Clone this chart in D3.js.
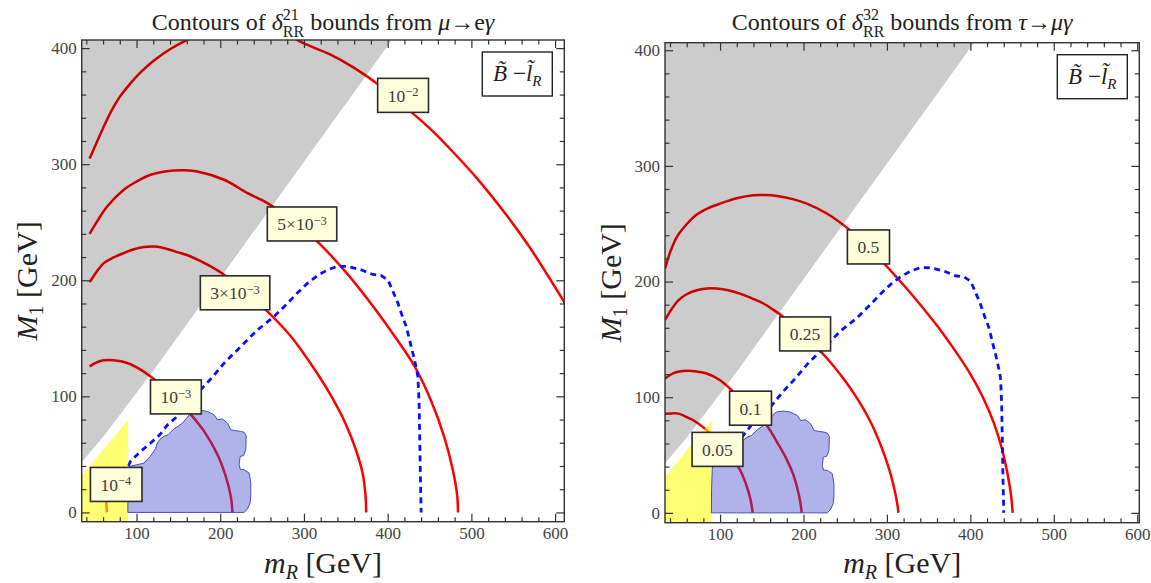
<!DOCTYPE html>
<html>
<head>
<meta charset="utf-8">
<script src="https://cdn.jsdelivr.net/npm/d3@7"></script>
<style>
  body { margin: 0; background: #fff; }
  svg { display: block; }
  text { font-family: "Liberation Serif", "Times New Roman", serif; }
</style>
</head>
<body>
<svg id="chart" width="1151" height="583"></svg>
<script>
// ---------- axis ticks ----------
const xTickValues = [100, 200, 300, 400, 500, 600];
const yTickValues = [0, 100, 200, 300, 400];

// ---------- shaded regions (m_R, M_1 in GeV) ----------
// edge of the slepton-LSP region (grey, above the edge)
const sleptonLspEdge = [[30, 39.5], [60, 65], [122, 124], [293, 295], [406, 408]];
// edge of the LEP-excluded corner (yellow, below the edge, left of m_R = 90)
const lepEdge = [[30, 27.5], [90, 80]];
const lepMaxMR = 90;
// relic-density allowed region (lavender)
const relicRegion = [
  [89.6, 0], [89.8, 20], [90.8, 39.6], [100, 41], [108.8, 42.5], [116, 48], [122.8, 55],
  [124.8, 59.8], [128, 63], [132.7, 65.5], [138, 67], [144.7, 72], [150, 74.5], [155, 77],
  [160.7, 82], [165, 86], [168.6, 87.5], [176.6, 88], [184.7, 87], [192.6, 84.2],
  [196.6, 79.8], [202.6, 80.5], [208.6, 77], [212.6, 71.2], [218, 70.5], [224.6, 69.8],
  [228.5, 69], [231, 66], [230.5, 54], [228, 49], [223.8, 48.2], [222.5, 41], [224, 37],
  [228.5, 36.8], [234.5, 33.9], [236.5, 25.3], [236.5, 15], [235.7, 8.1], [232.5, 3], [228.5, 0]
];
// collider exclusion contour (blue dashed)
const colliderBound = [
  [90, 40], [92.8, 44], [104, 52], [116.8, 59.8], [128, 67], [137, 75.5], [148.7, 82.7],
  [162, 93], [176.6, 105.7], [190, 116], [204.6, 128.6], [224.6, 143], [244.6, 157.3],
  [264.4, 168.8], [280.5, 180.3], [292, 189], [304.4, 197.5], [316, 204], [328.4, 209],
  [340, 212], [352.3, 211.9], [368.3, 209], [382, 205], [392.2, 204.1], [400.2, 200.4],
  [406, 191], [412.2, 180.4], [417, 170], [422.2, 160.2], [427, 146], [432.1, 131.5],
  [436.1, 117.1], [437.5, 95], [438.1, 71.2], [439, 35], [440, 0]
];

// ---------- delta_RR^21 contours from mu -> e gamma ----------
const muEg_1e2 = [[44, 305], [52, 318], [60, 331], [70, 346], [80, 358], [92, 369], [106, 380],
  [122, 390], [140, 399], [160, 407], [190, 416], [230, 420], [270, 415], [300, 404], [330, 395],
  [360, 383], [390, 368], [420, 350], [450, 331], [480, 309], [510, 285], [540, 258], [570, 228],
  [600, 194], [612, 180], [625, 164]];
const muEg_5e3 = [[44, 240], [54, 252], [64.9, 263.6], [84.8, 278], [100, 285], [116.8, 290.9],
  [144.7, 294.6], [158, 294.8], [172.7, 293.7], [204.6, 286.6], [232.6, 275.1], [250, 269],
  [264, 263], [280, 255], [300, 244], [318, 232], [350, 207], [380, 180], [410, 150], [432, 126],
  [452, 96], [468, 64], [478, 36], [483, 15], [484, 0]];
const muEg_3e3 = [[44, 198.4], [52, 207], [60.9, 214.8], [72, 219.5], [84.8, 223.4], [96, 226.5],
  [108.7, 228.6], [122, 229], [136.8, 227], [150, 224], [164.7, 220.5], [188.6, 211.9],
  [204.6, 204.7], [230, 190], [256.5, 173], [284, 152], [312, 124], [332, 101], [350, 76],
  [362, 54], [370, 34], [373.5, 15], [374.3, 0]];
const muEg_1e3 = [[44, 125.8], [50, 128.5], [58.9, 130.9], [72.8, 131], [88.9, 128.7],
  [104.8, 123], [118.8, 116], [142, 102], [164.7, 84.5], [180.6, 70], [196.6, 50], [206.6, 31],
  [212.6, 14], [214.6, 0]];
const muEg_1e4 = [[48, 38], [56, 30], [61, 21], [63.5, 11], [64.5, 0]];
const muEgLabels = [
  { base: "10", exp: "\u22122", at: [418.4, 359.3] },
  { base: "5\u00d710", exp: "\u22123", at: [297.7, 248.5] },
  { base: "3\u00d710", exp: "\u22123", at: [217.7, 189.2] },
  { base: "10", exp: "\u22123", at: [147, 99.5] },
  { base: "10", exp: "\u22124", at: [75.3, 24.1] }
];

// ---------- delta_RR^32 contours from tau -> mu gamma ----------
const tauMg_05 = [[34, 211.2], [40, 225], [48.1, 238.5], [60, 249.5], [72, 257.9], [86, 263.5],
  [100, 267.4], [120, 272], [140, 274.6], [154, 274.8], [168, 274], [186, 271.5], [204, 267.4],
  [228, 258.8], [255.8, 244.3], [270, 235], [285, 225], [300, 213], [320, 197], [340, 180],
  [360, 162], [380, 142], [400, 120], [415, 100], [428, 78], [438, 55], [445, 32], [449, 14],
  [450.7, 0]];
const tauMg_025 = [[34, 166.6], [40, 174], [50, 183.8], [60, 189], [72, 192.5], [84, 194],
  [96, 194], [110, 192.5], [124, 189.6], [138, 185.5], [152, 181], [164, 175.5], [176, 169.4],
  [190, 161], [205, 151], [220, 140], [236, 127], [252, 112], [266, 97], [278, 82], [289, 65],
  [298, 48], [305, 32], [310, 17], [313, 5], [313.7, 0]];
const tauMg_01 = [[34, 116.2], [45, 121], [60.1, 122.8], [72, 122.2], [84, 120.5], [100, 114.7],
  [116, 104.6], [136.5, 90.5], [156, 75.5], [170, 59], [180, 46], [187.8, 33], [193, 20],
  [196, 10], [197.9, 0]];
const tauMg_005 = [[34, 85.8], [42, 86], [50, 85.8], [58, 83.5], [68, 80.1], [76, 76], [84, 71.5],
  [96.8, 62], [112, 49], [124, 37], [131, 25], [136, 13], [139.2, 0]];
const tauMgLabels = [
  { base: "0.5", exp: "", at: [277.7, 229.9] },
  { base: "0.25", exp: "", at: [201.8, 154.7] },
  { base: "0.1", exp: "", at: [136.5, 90.5] },
  { base: "0.05", exp: "", at: [96.8, 54.9] }
];

// title pieces after the delta symbol: [text, italic]
const muEgTitleTail = [[" bounds from ", false], ["\u03bc", true], ["\u2192", false], ["e", false], ["\u03b3", true]];
const tauMgTitleTail = [[" bounds from ", false], ["\u03c4", true], ["\u2192", false], ["\u03bc\u03b3", true]];

// ---------- panel layout ----------
const panels = [
  {
    id: "muEg", left: 81.7, right: 564.3, top: 40, bottom: 521.7,
    xDomain: [34.5, 611], yDomain: [-8, 407],
    curves: [muEg_1e2, muEg_5e3, muEg_3e3, muEg_1e3, muEg_1e4],
    labels: muEgLabels, titleSup: "21", titleTail: muEgTitleTail,
    yTitleX: 37
  },
  {
    id: "tauMg", left: 665, right: 1139.3, top: 42.7, bottom: 522.7,
    xDomain: [34, 602.5], yDomain: [-8.5, 406.5],
    curves: [tauMg_05, tauMg_025, tauMg_01, tauMg_005],
    labels: tauMgLabels, titleSup: "32", titleTail: tauMgTitleTail,
    yTitleX: 621
  }
];

const svg = d3.select("#chart");
const defs = svg.append("defs");

panels.forEach(p => {
  const x = d3.scaleLinear().domain(p.xDomain).range([p.left, p.right]);
  const y = d3.scaleLinear().domain(p.yDomain).range([p.bottom, p.top]);
  const smooth = d3.line().x(d => x(d[0])).y(d => y(d[1])).curve(d3.curveCatmullRom.alpha(0.5));
  const straight = d3.line().x(d => x(d[0])).y(d => y(d[1]));

  defs.append("clipPath").attr("id", "clip-" + p.id)
    .append("rect").attr("x", p.left).attr("y", p.top)
    .attr("width", p.right - p.left).attr("height", p.bottom - p.top);

  const g = svg.append("g");
  const plot = g.append("g").attr("clip-path", `url(#clip-${p.id})`);

  // contour lines
  plot.selectAll("path.contour").data(p.curves).join("path")
    .attr("class", "contour")
    .attr("d", smooth)
    .attr("fill", "none")
    .attr("stroke", "#ff0000")
    .attr("stroke-width", 2.5);

  // collider exclusion (dashed)
  plot.append("path")
    .attr("d", straight(colliderBound))
    .attr("fill", "none")
    .attr("stroke", "#0a10ff")
    .attr("stroke-width", 2.8)
    .attr("stroke-dasharray", "6 4.5");

  // grey region: above the slepton-LSP edge
  const xLo = p.xDomain[0] - 20, yHi = p.yDomain[1] + 40, yLo = p.yDomain[0] - 20;
  const last = sleptonLspEdge[sleptonLspEdge.length - 1];
  const greyPoly = sleptonLspEdge.concat([[last[0], yHi], [xLo, yHi], [xLo, sleptonLspEdge[0][1]]]);
  plot.append("path")
    .attr("d", straight(greyPoly) + "Z")
    .attr("fill", "#000").attr("fill-opacity", 0.2);

  // yellow corner
  const yellowPoly = [[lepEdge[0][0], yLo]].concat(lepEdge, [[lepMaxMR, yLo]]);
  plot.append("path")
    .attr("d", straight(yellowPoly) + "Z")
    .attr("fill", "#ffff00").attr("fill-opacity", 0.55);

  // lavender relic-density region
  plot.append("path")
    .attr("d", straight(relicRegion) + "Z")
    .attr("fill", "rgb(55,65,200)").attr("fill-opacity", 0.4)
    .attr("stroke", "#4650b4").attr("stroke-width", 1);

  // contour labels
  p.labels.forEach(l => {
    const lg = g.append("g").attr("transform", `translate(${x(l.at[0])},${y(l.at[1])})`);
    const t = lg.append("text")
      .attr("text-anchor", "middle")
      .attr("y", 6.5)
      .attr("fill", "#3a3a3a")
      .style("font-size", "17.5px");
    t.append("tspan").text(l.base);
    if (l.exp) t.append("tspan").attr("dy", "-0.45em").style("font-size", "12.5px").text(l.exp);
    const bb = t.node().getBBox();
    lg.insert("rect", "text")
      .attr("x", bb.x - 10).attr("y", -17)
      .attr("width", bb.width + 20).attr("height", 34)
      .attr("fill", "#ffffdc")
      .attr("stroke", "#2a2a2a").attr("stroke-width", 1.6);
  });

  // legend box
  const legX = p.right - 82, legY = p.top + 12;
  g.append("rect").attr("x", legX).attr("y", legY).attr("width", 70).attr("height", 44)
    .attr("fill", "#fff").attr("stroke", "#222").attr("stroke-width", 1.4);
  const lt = g.append("text").attr("x", legX + 35).attr("y", legY + 29)
    .attr("text-anchor", "middle").attr("fill", "#222").style("font-size", "23px");
  lt.append("tspan").style("font-style", "italic").text("B\u0303");
  lt.append("tspan").text(" \u2212");
  lt.append("tspan").style("font-style", "italic").text("l\u0303");
  lt.append("tspan").style("font-style", "italic").style("font-size", "15px").attr("dy", 5).text("R");

  // frame
  g.append("rect").attr("x", p.left).attr("y", p.top)
    .attr("width", p.right - p.left).attr("height", p.bottom - p.top)
    .attr("fill", "none").attr("stroke", "#333").attr("stroke-width", 1.4);

  // ticks (pointing inward on all four sides)
  const xMinor = d3.range(40, 601, 20).filter(v => v % 100 !== 0 && v <= p.xDomain[1]);
  const yMinor = d3.range(0, 401, 20).filter(v => v % 100 !== 0);
  const styleAxis = (sel) => {
    sel.select(".domain").remove();
    sel.selectAll(".tick line").attr("stroke", "#333").attr("stroke-width", 1.2);
    sel.selectAll(".tick text").attr("fill", "#444").style("font-size", "17px")
      .style("font-family", "'Liberation Serif', 'Times New Roman', serif");
  };
  g.append("g").attr("transform", `translate(0,${p.bottom})`)
    .call(d3.axisBottom(x).tickValues(xTickValues).tickSize(-8).tickPadding(5)).call(styleAxis);
  g.append("g").attr("transform", `translate(0,${p.bottom})`)
    .call(d3.axisBottom(x).tickValues(xMinor).tickSize(-4.5).tickFormat("")).call(styleAxis);
  g.append("g").attr("transform", `translate(0,${p.top})`)
    .call(d3.axisTop(x).tickValues(xTickValues).tickSize(-8).tickFormat("")).call(styleAxis);
  g.append("g").attr("transform", `translate(0,${p.top})`)
    .call(d3.axisTop(x).tickValues(xMinor).tickSize(-4.5).tickFormat("")).call(styleAxis);
  g.append("g").attr("transform", `translate(${p.left},0)`)
    .call(d3.axisLeft(y).tickValues(yTickValues).tickSize(-8).tickPadding(5)).call(styleAxis);
  g.append("g").attr("transform", `translate(${p.left},0)`)
    .call(d3.axisLeft(y).tickValues(yMinor).tickSize(-4.5).tickFormat("")).call(styleAxis);
  g.append("g").attr("transform", `translate(${p.right},0)`)
    .call(d3.axisRight(y).tickValues(yTickValues).tickSize(-8).tickFormat("")).call(styleAxis);
  g.append("g").attr("transform", `translate(${p.right},0)`)
    .call(d3.axisRight(y).tickValues(yMinor).tickSize(-4.5).tickFormat("")).call(styleAxis);

  const cx = (p.left + p.right) / 2;

  // title with stacked indices on delta
  const tt = g.append("text").attr("x", cx).attr("y", 30)
    .attr("text-anchor", "middle").attr("fill", "#222").style("font-size", "24px");
  tt.append("tspan").text("Contours of ");
  tt.append("tspan").style("font-style", "italic").text("\u03b4");
  const sup = tt.append("tspan").attr("dy", -10).style("font-size", "16px").text(p.titleSup);
  const supW = sup.node().getComputedTextLength();
  tt.append("tspan").attr("dx", -supW).attr("dy", 17).style("font-size", "16px").text("RR");
  p.titleTail.forEach(([txt, it], i) => {
    const s = tt.append("tspan").style("font-style", it ? "italic" : "normal").text(txt);
    if (i === 0) s.attr("dy", -7);
  });

  // x axis title
  const xt = g.append("text").attr("x", cx).attr("y", 573)
    .attr("text-anchor", "middle").attr("fill", "#222").style("font-size", "30px");
  xt.append("tspan").style("font-style", "italic").text("m");
  xt.append("tspan").style("font-style", "italic").style("font-size", "20px").attr("dy", 6).text("R");
  xt.append("tspan").attr("dy", -6).text(" [GeV]");

  // y axis title
  const cy = (p.top + p.bottom) / 2;
  const yt = g.append("text").attr("transform", `translate(${p.yTitleX},${cy}) rotate(-90)`)
    .attr("text-anchor", "middle").attr("fill", "#222").style("font-size", "30px");
  yt.append("tspan").style("font-style", "italic").text("M");
  yt.append("tspan").style("font-size", "20px").attr("dy", 6).text("1");
  yt.append("tspan").attr("dy", -6).text(" [GeV]");
});
</script>
</body>
</html>
